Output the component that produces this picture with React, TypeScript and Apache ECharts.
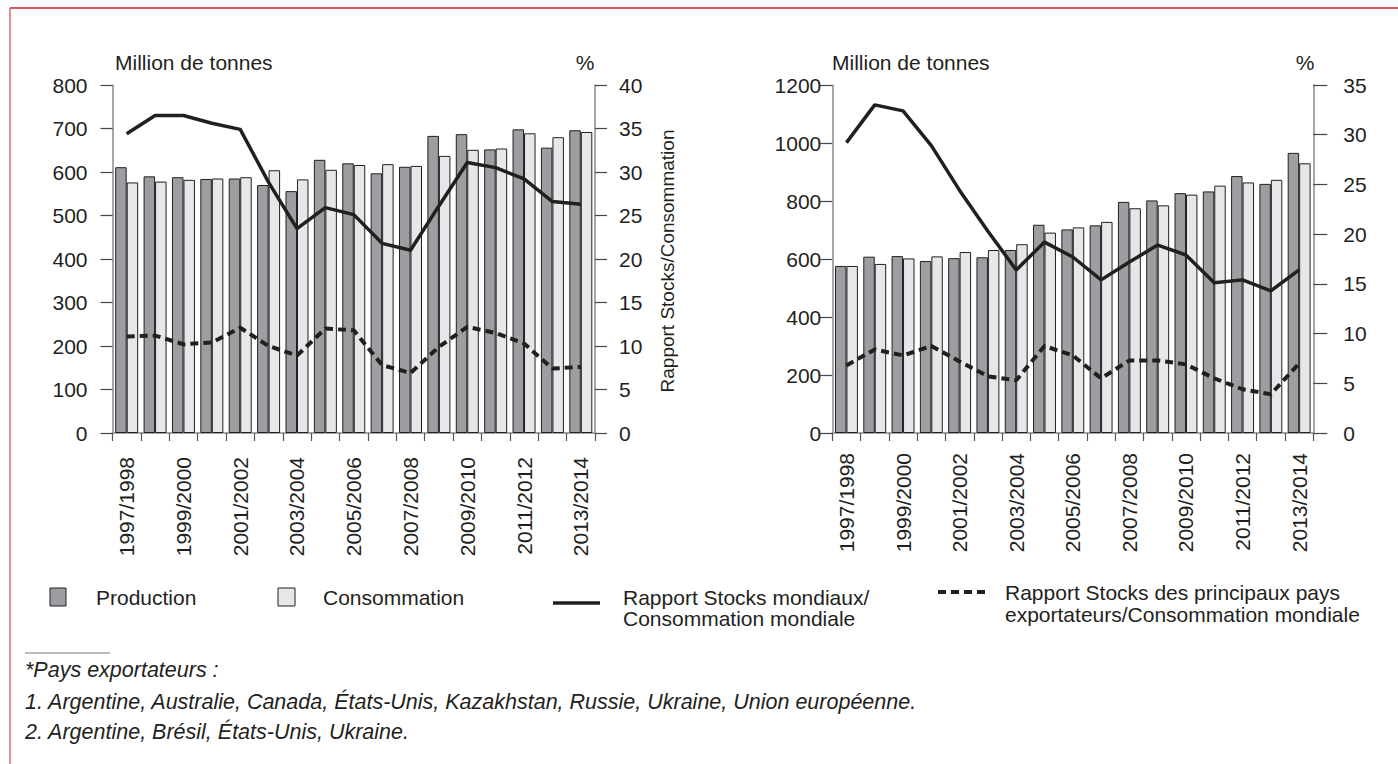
import React, { useEffect, useRef } from "react";
import * as echarts from "echarts";

const categories = [
  "1997/1998", "1998/1999", "1999/2000", "2000/2001", "2001/2002", "2002/2003",
  "2003/2004", "2004/2005", "2005/2006", "2006/2007", "2007/2008", "2008/2009",
  "2009/2010", "2010/2011", "2011/2012", "2012/2013", "2013/2014",
];

// Left chart (Million de tonnes / %)
const productionLeft = [611, 590, 588, 584, 585, 570, 556, 628, 620, 597, 612, 683, 687, 652, 698, 656, 696];
const consommationLeft = [576, 578, 582, 585, 588, 604, 583, 605, 616, 618, 614, 637, 651, 654, 689, 680, 692];
const stocksMondiauxLeft = [34.4, 36.5, 36.5, 35.6, 34.9, 28.8, 23.5, 25.9, 25.1, 21.8, 21.0, 26.1, 31.1, 30.5, 29.2, 26.6, 26.3];
const stocksExportateursLeft = [11.1, 11.2, 10.2, 10.4, 12.1, 10.0, 8.9, 12.0, 11.8, 7.8, 6.9, 9.9, 12.2, 11.5, 10.3, 7.4, 7.6];

// Right chart
const productionRight = [576, 608, 610, 593, 603, 606, 631, 718, 702, 716, 797, 802, 827, 833, 886, 859, 966];
const consommationRight = [576, 583, 602, 609, 624, 631, 651, 691, 709, 728, 775, 785, 822, 853, 864, 873, 930];
const stocksMondiauxRight = [29.2, 33.0, 32.4, 28.9, 24.4, 20.3, 16.4, 19.2, 17.7, 15.4, 17.2, 18.9, 17.9, 15.1, 15.4, 14.3, 16.4];
const stocksExportateursRight = [6.8, 8.4, 7.8, 8.75, 7.2, 5.7, 5.3, 8.75, 7.8, 5.5, 7.3, 7.3, 6.9, 5.5, 4.4, 3.9, 7.0];

const footnotes = [
  "*Pays exportateurs :",
  "1. Argentine, Australie, Canada, États-Unis, Kazakhstan, Russie, Ukraine, Union européenne.",
  "2. Argentine, Brésil, États-Unis, Ukraine.",
];

const FONT = "'Liberation Sans', Arial, Helvetica, sans-serif";
const INK = "#231f20";
const PROD = "#9d9ea2";
const CONS = "#e6e7e8";
const AXIS = "#8a8a8a";
const FS = 21;

function App() {
  const ref = useRef<HTMLDivElement>(null);

  useEffect(() => {
    if (!ref.current) return;
    const chart = echarts.init(ref.current, undefined, { renderer: "svg" });

    const xAxisBase = (gridIndex: number, margin: number) => ({
      type: "category" as const,
      gridIndex,
      data: categories,
      boundaryGap: true,
      axisLine: { show: true, lineStyle: { color: AXIS, width: 1.5 } },
      axisTick: { show: true, interval: 0, length: 8, lineStyle: { color: "#555", width: 1.2 } },
      axisLabel: {
        interval: 1,
        rotate: 90,
        margin,
        color: INK,
        fontSize: FS,
        fontFamily: FONT,
      },
      splitLine: { show: false },
    });

    const yAxisBase = (
      gridIndex: number,
      position: "left" | "right",
      max: number,
      interval: number,
      margin: number,
      tickLen: number
    ) => ({
      type: "value" as const,
      gridIndex,
      position,
      min: 0,
      max,
      interval,
      axisLine: { show: true, lineStyle: { color: AXIS, width: 1.5 } },
      axisTick: { show: true, length: tickLen, lineStyle: { color: "#444", width: 1.2 } },
      axisLabel: {
        margin,
        color: INK,
        fontSize: FS,
        fontFamily: FONT,
        formatter: (v: number) => String(v),
      },
      splitLine: { show: false },
    });

    const barSeries = (name: string, data: number[], xi: number, yi: number, color: string) => ({
      name,
      type: "bar" as const,
      xAxisIndex: xi,
      yAxisIndex: yi,
      data,
      barGap: "0%",
      barCategoryGap: "19%",
      itemStyle: { color, borderColor: INK, borderWidth: 1 },
      z: 2,
    });

    const lineSeries = (name: string, data: number[], xi: number, yi: number, dashed: boolean) => ({
      name,
      type: "line" as const,
      xAxisIndex: xi,
      yAxisIndex: yi,
      data,
      symbol: "none",
      lineStyle: dashed
        ? { color: INK, width: 4, type: [8, 5] as number[] }
        : { color: INK, width: 3.5, type: "solid" as const },
      z: 3,
    });

    const txt = (x: number, y: number, text: string, extra: any = {}) => ({
      type: "text",
      x,
      y,
      style: {
        text,
        fill: INK,
        fontSize: FS,
        fontFamily: FONT,
        verticalAlign: "middle",
        ...extra,
      },
    });

    const option: any = {
      animation: false,
      backgroundColor: "#ffffff",
      grid: [
        { left: 112.5, top: 85, width: 482.5, height: 348, containLabel: false },
        { left: 832.3, top: 85, width: 481, height: 348, containLabel: false },
      ],
      xAxis: [xAxisBase(0, 24), xAxisBase(1, 20)],
      yAxis: [
        yAxisBase(0, "left", 800, 100, 25, 12),
        yAxisBase(0, "right", 40, 5, 24, 12),
        yAxisBase(1, "left", 1200, 200, 11, 12),
        yAxisBase(1, "right", 35, 5, 30, 14),
      ],
      series: [
        barSeries("Production", productionLeft, 0, 0, PROD),
        barSeries("Consommation", consommationLeft, 0, 0, CONS),
        lineSeries("Rapport Stocks mondiaux/Consommation mondiale", stocksMondiauxLeft, 0, 1, false),
        lineSeries("Rapport Stocks des principaux pays exportateurs/Consommation mondiale", stocksExportateursLeft, 0, 1, true),
        barSeries("Production", productionRight, 1, 2, PROD),
        barSeries("Consommation", consommationRight, 1, 2, CONS),
        lineSeries("Rapport Stocks mondiaux/Consommation mondiale", stocksMondiauxRight, 1, 3, false),
        lineSeries("Rapport Stocks des principaux pays exportateurs/Consommation mondiale", stocksExportateursRight, 1, 3, true),
      ],
      graphic: [
        // frame
        { type: "line", shape: { x1: 10, y1: 8, x2: 1398, y2: 8 }, style: { stroke: "#c8202a", lineWidth: 1.5 } },
        { type: "line", shape: { x1: 10, y1: 8, x2: 10, y2: 764 }, style: { stroke: "#d96a6f", lineWidth: 1.5 } },
        // axis titles
        txt(115, 62, "Million de tonnes"),
        txt(585, 62, "%", { align: "center" }),
        txt(832, 62, "Million de tonnes"),
        txt(1305, 62, "%", { align: "center" }),
        {
          type: "text",
          x: 667.5,
          y: 261,
          rotation: Math.PI / 2,
          style: {
            text: "Rapport Stocks/Consommation",
            fill: INK,
            fontSize: 19,
            fontFamily: FONT,
            align: "center",
            verticalAlign: "middle",
          },
        },
        // legend
        { type: "rect", shape: { x: 50, y: 588, width: 16, height: 18 }, style: { fill: PROD, stroke: INK, lineWidth: 1 } },
        txt(96, 597, "Production"),
        { type: "rect", shape: { x: 278, y: 588, width: 17, height: 18 }, style: { fill: CONS, stroke: INK, lineWidth: 1 } },
        txt(323, 597, "Consommation"),
        { type: "line", shape: { x1: 553, y1: 603, x2: 600, y2: 603 }, style: { stroke: INK, lineWidth: 3.5 } },
        txt(623, 586.5, "Rapport Stocks mondiaux/\nConsommation mondiale", { verticalAlign: "top", lineHeight: 21 }),
        { type: "line", shape: { x1: 938, y1: 592, x2: 985, y2: 592 }, style: { stroke: INK, lineWidth: 4, lineDash: [8, 5] } },
        txt(1005, 581, "Rapport Stocks des principaux pays\nexportateurs/Consommation mondiale", { verticalAlign: "top", lineHeight: 22 }),
        // footnotes
        { type: "line", shape: { x1: 25, y1: 653, x2: 110, y2: 653 }, style: { stroke: "#7a7a7a", lineWidth: 1 } },
        txt(25, 670, footnotes[0], { fontSize: 21.5, fontStyle: "italic" }),
        txt(25, 702, footnotes[1], { fontSize: 21.5, fontStyle: "italic" }),
        txt(25, 732, footnotes[2], { fontSize: 21.5, fontStyle: "italic" }),
      ],
    };

    chart.setOption(option);
    return () => {
      chart.dispose();
    };
  }, []);

  return (
    <div
      ref={ref}
      style={{ position: "absolute", left: 0, top: 0, width: 1398, height: 764, background: "#fff" }}
    />
  );
}

export default App;
